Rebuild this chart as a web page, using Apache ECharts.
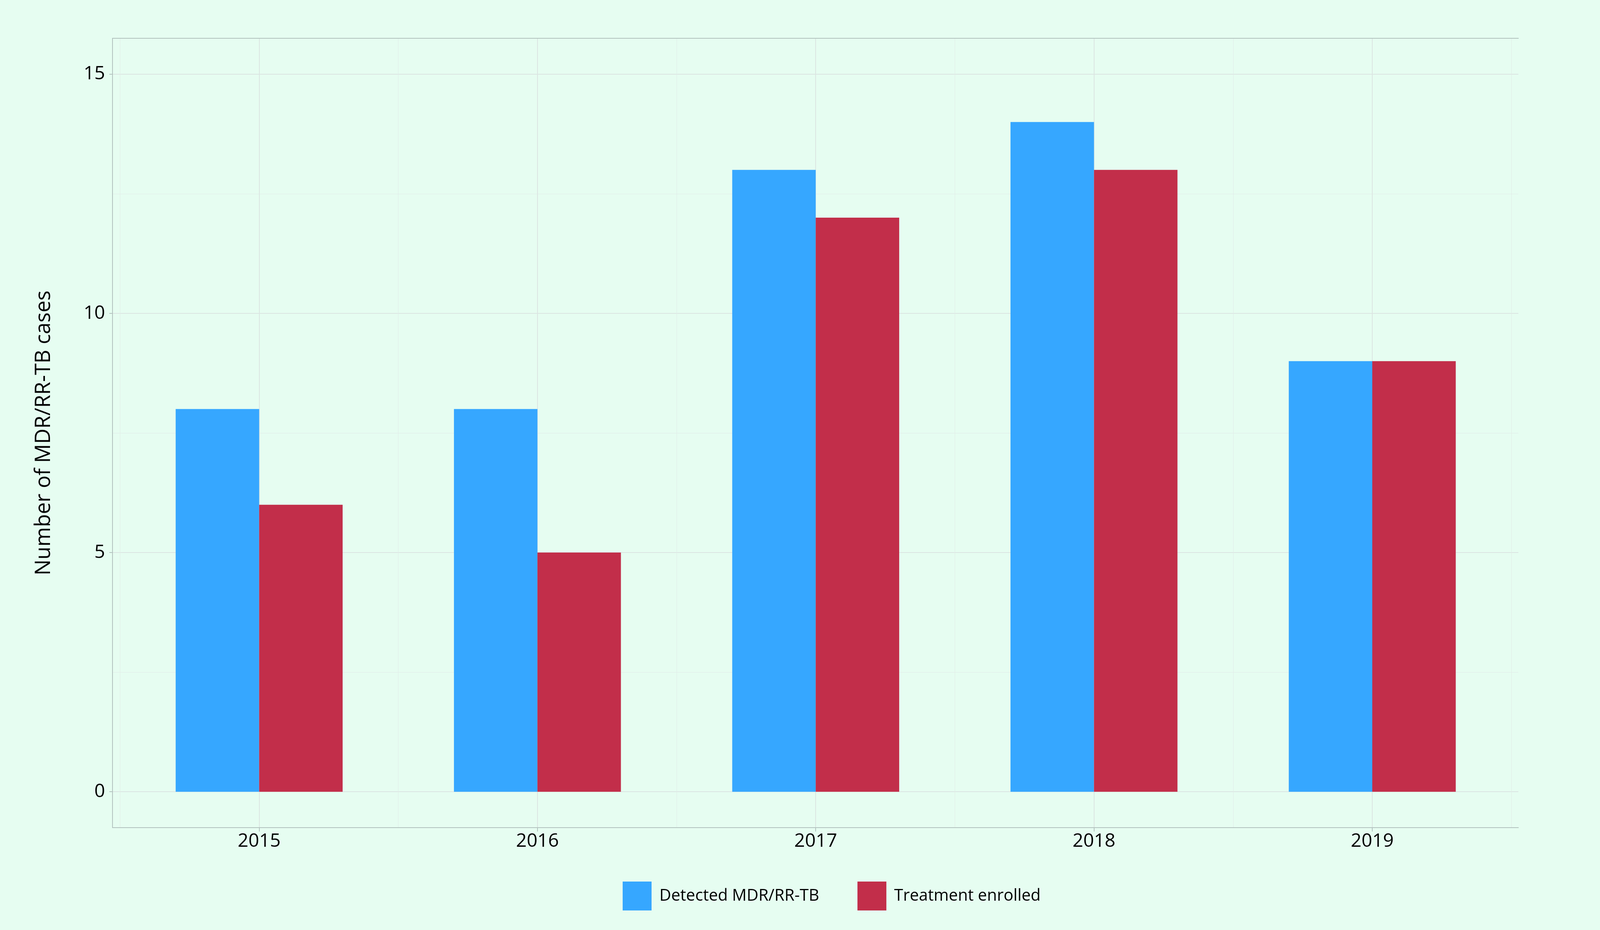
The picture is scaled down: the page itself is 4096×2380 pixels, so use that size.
<!DOCTYPE html>
<html><head><meta charset="utf-8">
<script src="https://cdn.jsdelivr.net/npm/echarts@6/dist/echarts.min.js"></script>
<style>html,body{margin:0;padding:0;background:#E6FDF1;} #c{width:4096px;height:2380px;}</style>
</head><body><div id="c"></div>
<script>
const categories = ['2015', '2016', '2017', '2018', '2019'];
const detected = [8, 8, 13, 14, 9];
const enrolled = [6, 5, 12, 13, 9];
const yTicks = [0, 5, 10, 15];
const yMinor = [2.5, 7.5, 12.5];
const seriesNames = ['Detected MDR/RR-TB', 'Treatment enrolled'];
const yTitle = 'Number of MDR/RR-TB cases';

const catIdx = categories.map((c, i) => i);
const catBounds = categories.map((c, i) => i - 0.5).concat([categories.length - 0.5]);

const FONT = '"Open Sans", sans-serif';
const AX = '#B2C2BE';
const GRID_MAJOR = '#DBE5E2';
const GRID_MINOR = '#E1EBE8';
const XMIN = -0.527, XMAX = categories.length - 1 + 0.525;
const YMIN = -0.75, YMAX = 15.75;

const chart = echarts.init(document.getElementById('c'));
chart.setOption({
  backgroundColor: '#E6FDF1',
  animation: false,
  grid: { left: 288, right: 209, top: 98, bottom: 262, containLabel: false },
  legend: {
    left: 1589, top: 2251, itemWidth: 74, itemHeight: 74, itemGap: 98, icon: 'rect',
    textStyle: { fontSize: 41.6, fontFamily: FONT, color: '#000', padding: [0, 0, 0, 15] },
    data: seriesNames
  },
  xAxis: [
    {
      type: 'value', min: XMIN, max: XMAX, position: 'bottom',
      axisLine: { show: true, onZero: false, lineStyle: { color: AX, width: 2 } },
      axisTick: { show: true, customValues: catIdx, length: 10, lineStyle: { color: AX, width: 2 } },
      axisLabel: { customValues: catIdx, formatter: v => categories[Math.round(v)], margin: 11, fontSize: 48, fontFamily: FONT, color: '#000' },
      splitLine: { show: true, lineStyle: { color: GRID_MAJOR, width: 2 } }
    },
    {
      type: 'value', min: XMIN, max: XMAX, position: 'top',
      axisLine: { show: true, onZero: false, lineStyle: { color: AX, width: 2 } },
      axisTick: { show: false, customValues: catBounds },
      axisLabel: { show: false },
      splitLine: { show: true, lineStyle: { color: GRID_MINOR, width: 1 } }
    }
  ],
  yAxis: [
    {
      type: 'value', min: YMIN, max: YMAX, position: 'left',
      axisLine: { show: true, onZero: false, lineStyle: { color: AX, width: 2 } },
      axisTick: { show: true, customValues: yTicks, length: 8, lineStyle: { color: AX, width: 2 } },
      axisLabel: { customValues: yTicks, margin: 19, fontSize: 48, fontFamily: FONT, color: '#000' },
      splitLine: { show: true, lineStyle: { color: GRID_MAJOR, width: 2 } },
      name: yTitle, nameLocation: 'middle', nameGap: 148,
      nameTextStyle: { fontSize: 54, fontFamily: FONT, color: '#000' }
    },
    {
      type: 'value', min: YMIN, max: YMAX, position: 'right',
      axisLine: { show: false, onZero: false },
      axisTick: { show: false, customValues: yMinor },
      axisLabel: { show: false },
      splitLine: { show: true, lineStyle: { color: GRID_MINOR, width: 1 } }
    }
  ],
  series: [
    {
      name: seriesNames[0], type: 'bar', xAxisIndex: 0, yAxisIndex: 0,
      barWidth: '30%', barGap: '0%',
      itemStyle: { color: '#36A7FF' },
      data: catIdx.map(i => [i, detected[i]])
    },
    {
      name: seriesNames[1], type: 'bar', xAxisIndex: 0, yAxisIndex: 0,
      barWidth: '30%', barGap: '0%',
      itemStyle: { color: '#C22E4A' },
      data: catIdx.map(i => [i, enrolled[i]])
    }
  ]
});
</script></body></html>
